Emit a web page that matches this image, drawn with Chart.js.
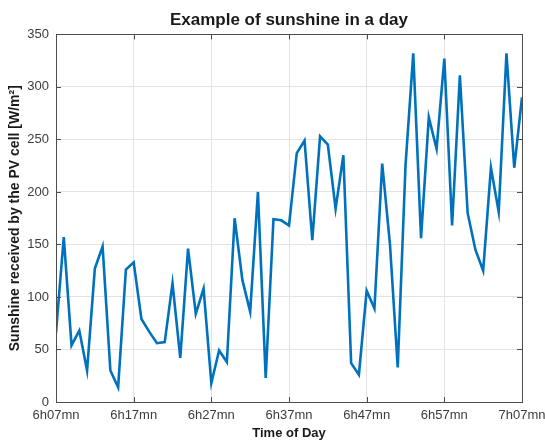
<!DOCTYPE html>
<html>
<head>
<meta charset="utf-8">
<script src="https://cdn.jsdelivr.net/npm/chart.js@4"></script>
<style>
  html, body { margin: 0; padding: 0; background: #ffffff; }
  #wrap { width: 545px; height: 442px; }
</style>
</head>
<body>
<div id="wrap"><canvas id="c" width="545" height="442"></canvas></div>
<script>
// Minutes elapsed since 6h07mn
const minutes = [0,1,2,3,4,5,6,7,8,9,10,11,12,13,14,15,16,17,18,19,20,
  21,22,23,24,25,26,27,28,29,30,31,32,33,34,35,36,37,38,39,40,
  41,42,43,44,45,46,47,48,49,50,51,52,53,54,55,56,57,58,59,60];
// Sunshine received (W/m²)
const sunshine = [66,157,54,68,30,127,148,30,14,126,133,79,67,56,57,113,42,146,84,108,18,
  49,38,175,116,86,200,23,174,173,168,237,249,154,253,245,184,235,37,26,106,
  89,227,150,33,225,332,156,271,241,327,168,311,180,145,125,223,181,332,223,290];
const xTickLabels = ['6h07mn','6h17mn','6h27mn','6h37mn','6h47mn','6h57mn','7h07mn'];
const yTicks = [0,50,100,150,200,250,300,350];

const FONT = '"Liberation Sans", Arial, Helvetica, sans-serif';

const boxPlugin = {
  id: 'box',
  afterDraw(chart) {
    const {ctx, chartArea: a, scales} = chart;
    ctx.save();
    ctx.strokeStyle = '#4d4d4d';
    ctx.lineWidth = 1;
    ctx.beginPath();
    const tl = 5;
    scales.x.ticks.forEach(t => {
      const px = Math.round(scales.x.getPixelForValue(t.value)) + 0.5;
      ctx.moveTo(px, a.bottom); ctx.lineTo(px, a.bottom - tl);
      ctx.moveTo(px, a.top); ctx.lineTo(px, a.top + tl);
    });
    scales.y.ticks.forEach(t => {
      const py = Math.round(scales.y.getPixelForValue(t.value)) + 0.5;
      ctx.moveTo(a.left, py); ctx.lineTo(a.left + tl, py);
      ctx.moveTo(a.right, py); ctx.lineTo(a.right - tl, py);
    });
    ctx.stroke();
    ctx.strokeRect(Math.round(a.left) + 0.5, Math.round(a.top) + 0.5,
      Math.round(a.right - a.left), Math.round(a.bottom - a.top));
    ctx.restore();
  }
};

new Chart(document.getElementById('c'), {
  type: 'line',
  data: {
    labels: minutes,
    datasets: [{
      data: sunshine,
      borderColor: '#0072BD',
      borderWidth: 2.6,
      pointRadius: 0,
      tension: 0,
      fill: false
    }]
  },
  options: {
    responsive: false,
    devicePixelRatio: 1,
    animation: false,
    layout: { padding: { left: 0, right: 23, top: 0, bottom: 0 } },
    plugins: {
      legend: { display: false },
      tooltip: { enabled: false },
      title: {
        display: true,
        fullSize: false,
        text: 'Example of sunshine in a day',
        color: '#1a1a1a',
        font: { family: FONT, size: 17, weight: 'bold' },
        padding: { top: 10, bottom: 4 }
      }
    },
    scales: {
      x: {
        type: 'linear',
        min: 0, max: 60,
        afterFit(s) { s.height = 40; s.paddingLeft = 0; s.paddingRight = 0; },
        afterBuildTicks(s) { s.ticks = xTickLabels.map((_, i) => ({ value: i * 10 })); },
        ticks: {
          stepSize: 10,
          autoSkip: false,
          maxRotation: 0,
          padding: 6,
          color: '#3c3c3c',
          font: { family: FONT, size: 13 },
          callback: (v) => xTickLabels[Math.round(v / 10)]
        },
        grid: { color: '#e3e3e3', drawTicks: false, lineWidth: 1 },
        border: { display: false },
        title: {
          display: true,
          text: 'Time of Day',
          color: '#1a1a1a',
          font: { family: FONT, size: 13, weight: 'bold' },
          padding: { top: 0, bottom: 1 }
        }
      },
      y: {
        type: 'linear',
        min: 0, max: 350,
        afterFit(s) { s.width = 56; s.paddingTop = 0; s.paddingBottom = 0; },
        afterBuildTicks(s) { s.ticks = yTicks.map(v => ({ value: v })); },
        ticks: {
          stepSize: 50,
          padding: 7,
          color: '#3c3c3c',
          font: { family: FONT, size: 13 }
        },
        grid: { color: '#e3e3e3', drawTicks: false, lineWidth: 1 },
        border: { display: false },
        title: {
          display: true,
          text: 'Sunshine received by the PV cell [W/m²]',
          color: '#1a1a1a',
          font: { family: FONT, size: 14, weight: 'bold' },
          padding: { top: 7, bottom: 0 }
        }
      }
    }
  },
  plugins: [boxPlugin]
});
</script>
</body>
</html>
